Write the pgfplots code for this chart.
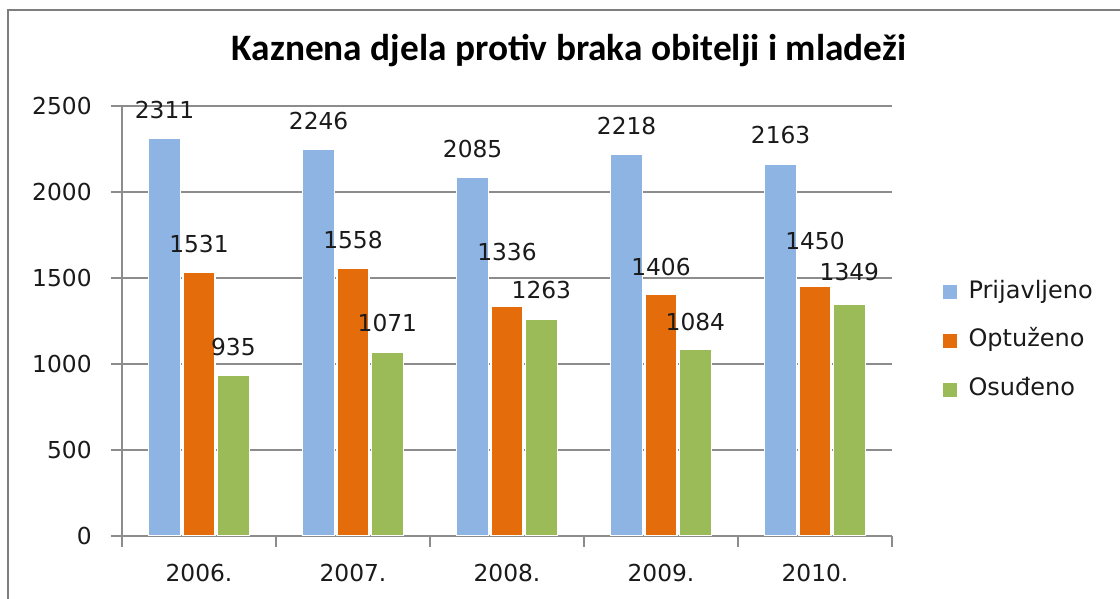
\documentclass[border=0pt]{standalone}
\usepackage{fontspec}
\setmainfont{DejaVu Sans}
\newfontfamily\titlefont{Carlito}
\usepackage{pgfplots}
\usepackage{pgfplotstable}
\pgfplotsset{compat=1.18}
\definecolor{cBlue}{HTML}{8EB4E3}
\definecolor{cOrange}{HTML}{E46C0A}
\definecolor{cGreen}{HTML}{9BBB59}
\definecolor{cGrid}{HTML}{8C8C8C}
\definecolor{cText}{HTML}{1A1A1A}
% x value off(label offset in pt above bar top)
\pgfplotstableread{
x y off
0 2311 15
1 2246 15
2 2085 15
3 2218 15
4 2163 15
}\prijavljeno
\pgfplotstableread{
x y off
0 1531 15
1 1558 15
2 1336 34.5
3 1406 14
4 1450 27.75
}\optuzeno
\pgfplotstableread{
x y off
0 935 15
1 1071 15
2 1263 15
3 1084 14
4 1349 17.25
}\osudeno
\begin{document}
\begin{tikzpicture}
\path[use as bounding box] (0,0) rectangle (840pt,449.25pt);
\draw[color=cGrid!90!black, line width=1.5pt] (6pt,0) -- (6pt,441.75pt) -- (840pt,441.75pt);
\begin{axis}[
  at={(91.5pt,47.25pt)}, anchor=south west,
  scale only axis, width=577.5pt, height=322.5pt,
  ybar=1.8pt, bar width=24pt,
  xmin=-0.5, xmax=4.5, ymin=0, ymax=2500,
  axis x line*=bottom, axis y line*=left,
  axis line style={-, color=cGrid, line width=0.9pt},
  xtick={0,1,2,3,4},
  xticklabels={2006.,2007.,2008.,2009.,2010.},
  minor xtick={-0.5,0.5,1.5,2.5,3.5,4.5},
  ytick={0,500,1000,1500,2000,2500},
  tick align=outside,
  major tick length=8.25pt,
  minor tick length=8pt,
  x tick style={draw=none},
  minor x tick style={draw=cGrid, line width=0.9pt},
  y tick style={draw=cGrid, line width=0.9pt},
  ymajorgrids,
  grid style={color=cGrid, line width=0.9pt},
  /pgf/number format/assume math mode=true,
  /pgf/number format/1000 sep={},
  ticklabel style={font=\fontsize{17.5}{20}\selectfont, text=cText},
  yticklabel style={xshift=-11pt},
  xticklabel style={yshift=-9pt},
  nodes near coords,
  visualization depends on={\thisrow{off} \as \labeloff},
  every node near coord/.append style={font=\fontsize{17.5}{20}\selectfont, text=cText, anchor=base, yshift=\labeloff pt},
  title={\titlefont\bfseries Kaznena djela protiv braka obitelji i mladeži},
  title style={at={(0.5805,1.1)}, anchor=base, yshift=-4.5pt, font=\fontsize{28}{32}\selectfont, text=black},
  legend style={at={(1.066,0.4535)}, anchor=west, draw=none, fill=none,
    font=\fontsize{18}{20}\selectfont, text=cText, row sep=19.4pt, inner sep=0pt,
    nodes={inner sep=0pt, text height=13pt, text depth=4pt}},
  legend cell align=left,
  legend image code/.code={\fill[#1, draw=none] (0pt,-5.25pt) rectangle (10.5pt,5.25pt); \path (10.5pt,0) -- (18.5pt,0);},
]
\addplot[fill=cBlue, draw=white, line width=1.2pt] table[x=x, y=y] {\prijavljeno};
\addplot[fill=cOrange, draw=white, line width=1.2pt] table[x=x, y=y] {\optuzeno};
\addplot[fill=cGreen, draw=white, line width=1.2pt] table[x=x, y=y] {\osudeno};
\legend{Prijavljeno, Optuženo, Osuđeno}
\end{axis}
\end{tikzpicture}
\end{document}
